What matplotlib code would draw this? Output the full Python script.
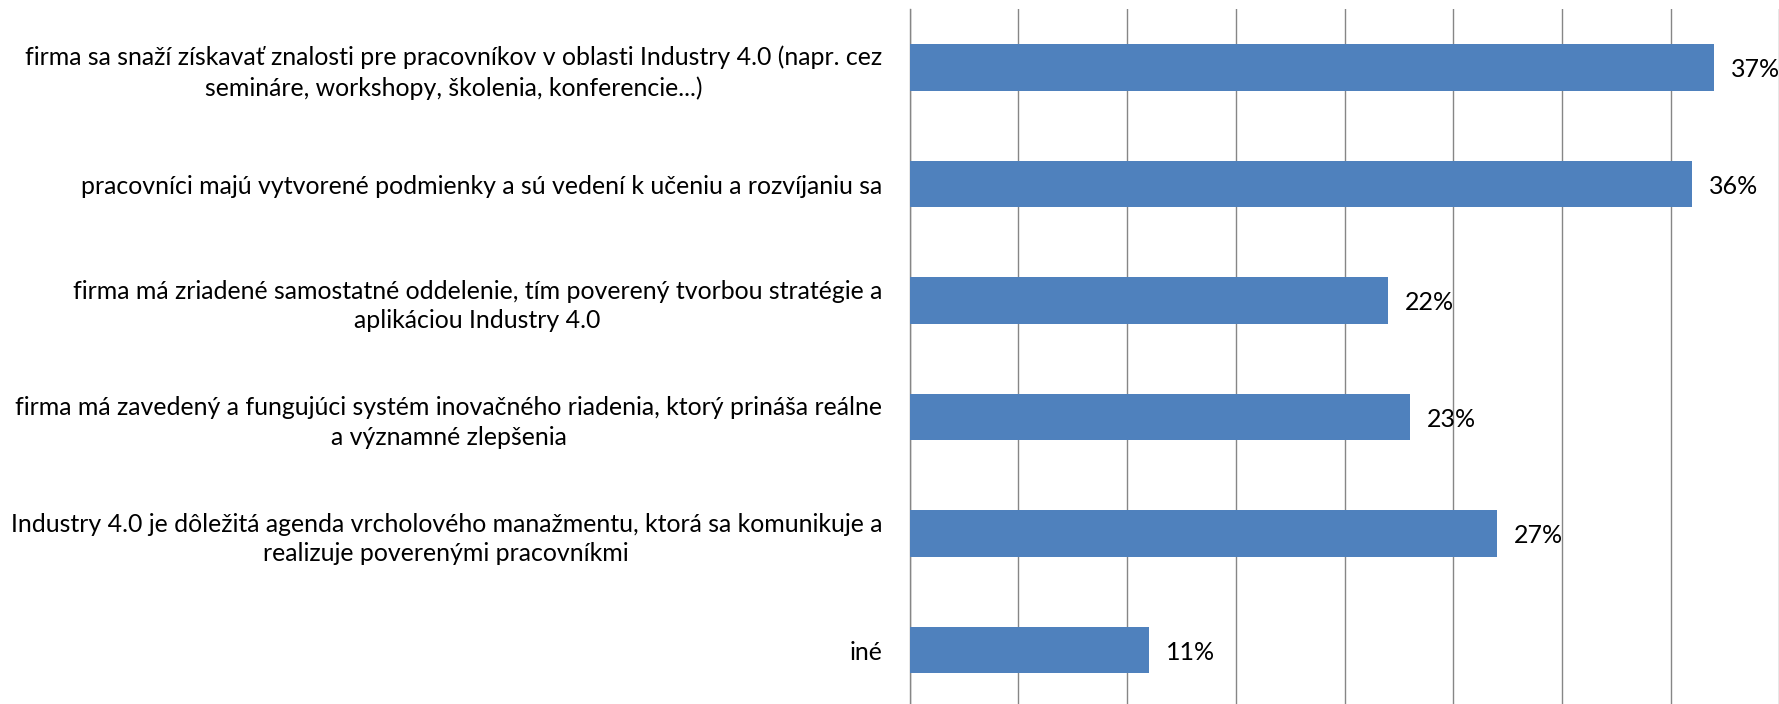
import matplotlib
matplotlib.use('Agg')
from matplotlib import pyplot as plt

# kategórie (odhora nadol) a hodnoty odčítané z obrázka
categories = [
    "firma sa snaží získavať znalosti pre pracovníkov v oblasti Industry 4.0 (napr. cez\nsemináre, workshopy, školenia, konferencie...)",
    "pracovníci majú vytvorené podmienky a sú vedení k učeniu a rozvíjaniu sa",
    "firma má zriadené samostatné oddelenie, tím poverený tvorbou stratégie a\naplikáciou Industry 4.0",
    "firma má zavedený a fungujúci systém inovačného riadenia, ktorý prináša reálne\na významné zlepšenia",
    "Industry 4.0 je dôležitá agenda vrcholového manažmentu, ktorá sa komunikuje a\nrealizuje poverenými pracovníkmi",
    "iné",
]
values = [0.37, 0.36, 0.22, 0.23, 0.27, 0.11]
value_labels = ["37%", "36%", "22%", "23%", "27%", "11%"]

plt.rcParams['font.family'] = ['Lato', 'DejaVu Sans']

fig = plt.figure(figsize=(17.79, 7.04), dpi=100)
# spodok osi je mierne pod okrajom obrázka (ako v origináli)
ax = fig.add_axes([0.5114, -0.0061, 0.4888, 0.99297])

ypos = list(range(len(categories)))
ax.barh(ypos, values, height=0.4, color='#4F81BD', zorder=3)

for y, v, lab in zip(ypos, values, value_labels):
    ax.annotate(lab, (v, y), xytext=(17, -2), textcoords='offset pixels',
                ha='left', va='center', fontsize=18, color='black', zorder=4)

ax.set_xlim(0, 0.40)
ax.set_ylim(len(categories) - 0.5, -0.5)
ax.set_xticks([i * 0.05 for i in range(9)])
ax.set_xticklabels([])
ax.tick_params(axis='x', length=0)
ax.grid(axis='x', color='#868686', linewidth=1.0, zorder=0)

ax.set_yticks(ypos)
ax.set_yticklabels(categories, fontsize=17.9, multialignment='center',
                   linespacing=1.35)
ax.tick_params(axis='y', length=0, pad=20)

for side in ['top', 'right', 'bottom']:
    ax.spines[side].set_visible(False)
ax.spines['left'].set_color('#868686')
ax.spines['left'].set_linewidth(1.0)

fig.savefig('out.png', dpi=100, facecolor='white')
